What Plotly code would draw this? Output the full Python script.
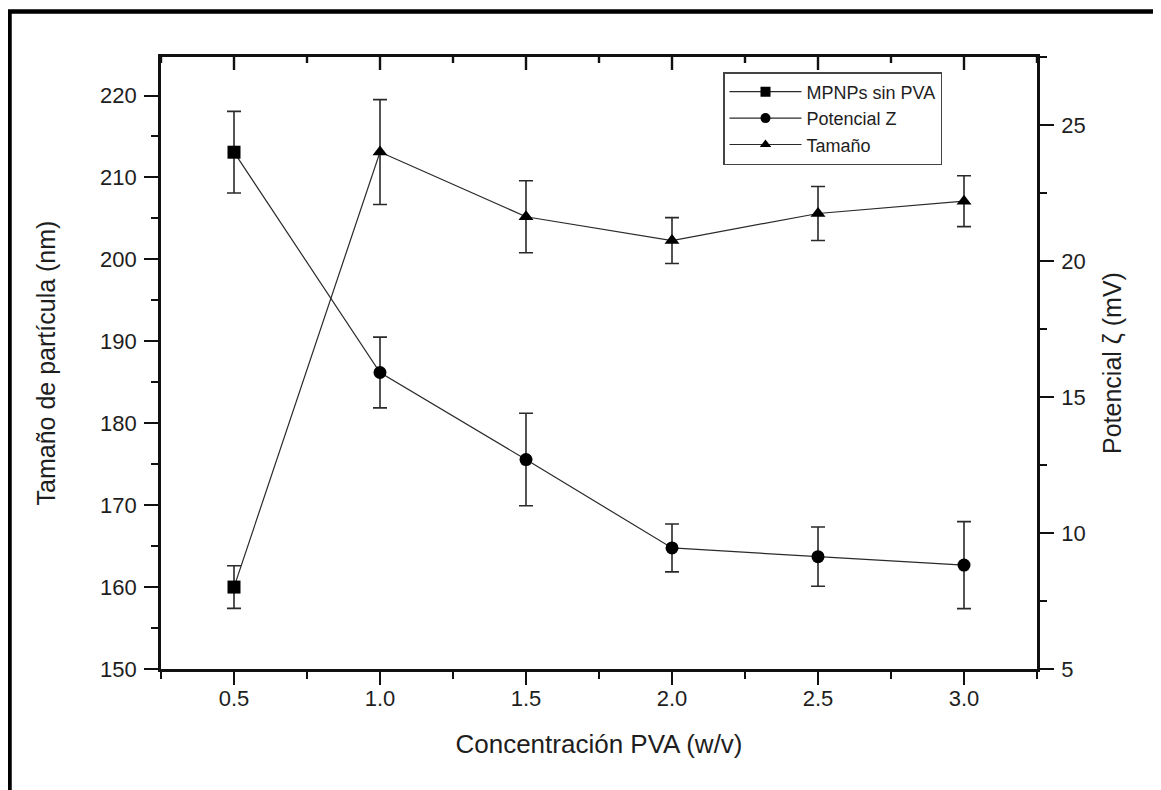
import plotly.graph_objects as go

# ---- data ----
conc = [0.5, 1.0, 1.5, 2.0, 2.5, 3.0]
tamano = [160.0, 213.1, 205.2, 202.3, 205.6, 207.1]
tamano_err = [2.6, 6.4, 4.4, 2.8, 3.3, 3.1]
zeta = [24.0, 15.9, 12.7, 9.45, 9.13, 8.82]
zeta_err = [1.5, 1.3, 1.7, 0.88, 1.09, 1.6]
sym_tamano = ["square", "triangle-up", "triangle-up", "triangle-up", "triangle-up", "triangle-up"]
sym_zeta = ["square", "circle", "circle", "circle", "circle", "circle"]
legend_names = ["MPNPs sin PVA", "Potencial Z", "Tamaño"]
legend_symbols = ["square", "circle", "triangle-up"]
x_major_ticks = [0.5, 1.0, 1.5, 2.0, 2.5, 3.0]
x_minor_ticks = [0.25, 0.75, 1.25, 1.75, 2.25, 2.75, 3.25]

# ---- layout geometry (page has an 8px body margin) ----
OFF = 8
W, H = 1161, 790
L, R, T, B = 161 - OFF, 1037 - OFF, 57 - OFF, 669 - OFF
FONT = "Arial, Liberation Sans, sans-serif"
TXT = "#1e1e1e"
AX = "#111111"


def px_x(p):
    return (p - OFF - L) / (R - L)


def px_y(p):
    return (B - (p - OFF)) / (B - T)


fig = go.Figure()

line_style = dict(color="#2a2a2a", width=1.2)
err_style = dict(color="#2a2a2a", thickness=1.6, width=7)

fig.add_trace(go.Scatter(
    x=conc, y=tamano, mode="lines+markers", yaxis="y", xaxis="x",
    line=line_style,
    marker=dict(symbol=sym_tamano, size=13, color="black", opacity=1),
    error_y=dict(type="data", array=tamano_err, visible=True, **err_style),
    showlegend=False, name="Tamaño",
))
fig.add_trace(go.Scatter(
    x=conc, y=zeta, mode="lines+markers", yaxis="y2", xaxis="x",
    line=line_style,
    marker=dict(symbol=sym_zeta, size=13, color="black", opacity=1),
    error_y=dict(type="data", array=zeta_err, visible=True, **err_style),
    showlegend=False, name="Potencial Z",
))
for nm, sy in zip(legend_names, legend_symbols):
    fig.add_trace(go.Scatter(
        x=[None], y=[None], mode="lines+markers", name=nm,
        line=dict(color="#2a2a2a", width=1.2),
        marker=dict(symbol=sy, size=10, color="black"),
        showlegend=True, xaxis="x", yaxis="y",
    ))

axis_common = dict(
    showline=True, linecolor=AX, linewidth=2.6, showgrid=False, zeroline=False,
    tickcolor=AX, tickwidth=2.4,
    tickfont=dict(family=FONT, size=22, color=TXT),
)

# inward tick marks on the top frame line, placed at the x-axis tick values
top_len_major = 13 / (B - T)
top_len_minor = 6 / (B - T)
shapes = []
for v in x_major_ticks:
    shapes.append(dict(type="line", xref="x", yref="paper", x0=v, x1=v, y0=1, y1=1 - top_len_major,
                       line=dict(color=AX, width=2.4)))
for v in x_minor_ticks:
    shapes.append(dict(type="line", xref="x", yref="paper", x0=v, x1=v, y0=1, y1=1 - top_len_minor,
                       line=dict(color=AX, width=2.4)))
# outer frame of the figure
shapes.append(dict(
    type="rect", xref="paper", yref="paper",
    x0=px_x(9.5), x1=px_x(1156), y0=px_y(810), y1=px_y(11.5),
    line=dict(color="black", width=4.5), fillcolor="rgba(0,0,0,0)", layer="above",
))

fig.update_layout(
    width=W, height=H, autosize=False,
    margin=dict(l=L, r=W - R, t=T, b=H - B, pad=0),
    paper_bgcolor="white", plot_bgcolor="white",
    font=dict(family=FONT, color=TXT),
    xaxis=dict(
        range=[0.25, 3.25], tick0=0.5, dtick=0.5, tickformat=".1f",
        ticks="outside", ticklen=13, ticklabelstandoff=-5, mirror=True,
        minor=dict(dtick=0.25, tick0=0.25, ticks="outside", ticklen=7, tickwidth=2.4, tickcolor=AX),
        title=dict(text="Concentración PVA (w/v)", font=dict(family=FONT, size=26, color=TXT), standoff=25),
        anchor="y",
        **axis_common,
    ),
    yaxis=dict(
        range=[150, 224.7], tick0=150, dtick=10,
        ticks="outside", ticklen=14, ticklabelstandoff=3,
        minor=dict(dtick=5, tick0=150, ticks="outside", ticklen=7, tickwidth=2.4, tickcolor=AX),
        title=dict(text="Tamaño de partícula (nm)", font=dict(family=FONT, size=25, color=TXT), standoff=38),
        **axis_common,
    ),
    yaxis2=dict(
        range=[5, 27.5], tick0=5, dtick=5, overlaying="y", side="right", anchor="x",
        ticks="outside", ticklen=14, ticklabelstandoff=3,
        minor=dict(dtick=2.5, tick0=5, ticks="outside", ticklen=7, tickwidth=2.4, tickcolor=AX),
        title=dict(text="Potencial ζ (mV)", font=dict(family=FONT, size=25, color=TXT), standoff=19),
        **axis_common,
    ),
    legend=dict(
        x=px_x(723), y=px_y(72), xanchor="left", yanchor="top",
        bgcolor="white", bordercolor="#444444", borderwidth=1.5,
        font=dict(family=FONT, size=18, color=TXT),
        itemwidth=72, tracegroupgap=0,
    ),
    shapes=shapes,
)

fig.write_html("out.html")
